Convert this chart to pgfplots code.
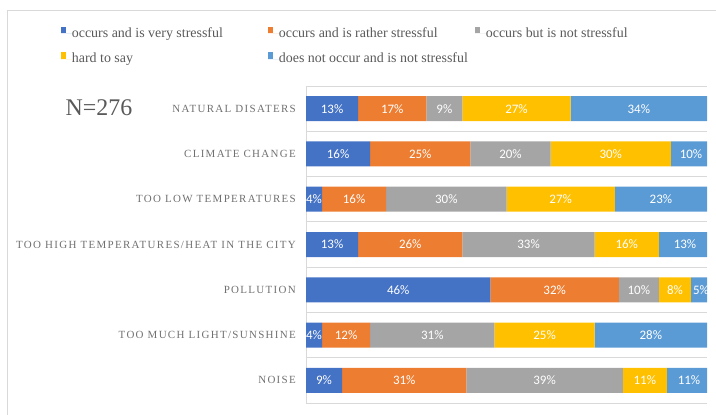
\documentclass[border=0pt]{standalone}
\usepackage{fontspec}
\setmainfont{Liberation Serif}
\newfontfamily\lblfont{Carlito}
\newfontfamily\catfont[LetterSpace=12]{Liberation Serif}
\usepackage{pgfplots}
\usepackage{pgfplotstable}
\pgfplotsset{compat=1.18}
\definecolor{cA}{HTML}{4472C4}
\definecolor{cB}{HTML}{ED7D31}
\definecolor{cC}{HTML}{A5A5A5}
\definecolor{cD}{HTML}{FFC000}
\definecolor{cE}{HTML}{5B9BD5}
\definecolor{gridc}{HTML}{D9D9D9}
\definecolor{txt}{HTML}{595959}
\definecolor{cattxt}{HTML}{707070}

% pos: 6 = natural disasters ... 0 = noise
\pgfplotstableread{
pos val
6 13
5 16
4 4
3 13
2 46
1 4
0 9
}\veryS
\pgfplotstableread{
pos val
6 17
5 25
4 16
3 26
2 32
1 12
0 31
}\ratherS
\pgfplotstableread{
pos val
6 9
5 20
4 30
3 33
2 10
1 31
0 39
}\notS
\pgfplotstableread{
pos val
6 27
5 30
4 27
3 16
2 8
1 25
0 11
}\hardS
\pgfplotstableread{
pos val
6 34
5 10
4 23
3 13
2 5
1 28
0 11
}\noOcc

\pgfplotsset{
  lab/.style={draw=none, fill=none,
    nodes near coords={\lblfont\fontsize{13}{15}\selectfont\pgfmathprintnumber[assume math mode=true]{\pgfplotspointmeta}\%},
    nodes near coords align={center},
    every node near coord/.append style={text=white, anchor=center, inner sep=0pt}},
}

\begin{document}
\begin{tikzpicture}
\useasboundingbox (0,0) rectangle (716bp,415bp);
\draw[gridc, line width=1bp] (7bp,0) -- (7bp,404bp) -- (716bp,404bp);
\node[text=txt, font=\fontsize{24}{28}\selectfont] at (99bp,307bp) {N=276};
\begin{axis}[
  at={(306bp,12bp)}, anchor=south west,
  scale only axis, width=401bp, height=317bp,
  xbar stacked, bar width=25bp,
  xmin=0, xmax=100, ymin=-0.5, ymax=6.5,
  axis x line=none, axis y line*=left,
  axis line style={draw=gridc, line width=1bp},
  ytick={0,...,6},
  yticklabels={NOISE, TOO MUCH LIGHT/SUNSHINE, POLLUTION, TOO HIGH TEMPERATURES/HEAT IN THE CITY, TOO LOW TEMPERATURES, CLIMATE CHANGE, NATURAL DISATERS},
  yticklabel style={font=\catfont\fontsize{11}{13}\selectfont, text=cattxt, inner sep=0pt, xshift=-10bp},
  minor ytick={-0.5,0.5,...,6.5},
  yminorgrids, minor grid style={draw=gridc, line width=1bp},
  major tick length=0pt, minor tick length=0pt,
  legend columns=3,
  legend cell align=left,
  legend image code/.code={\fill[#1, draw=none] (0bp,0.5bp) rectangle (5bp,7.2bp); \path (0bp,0bp) -- (10.7bp,0bp);},
  legend style={at={(axis description cs:-0.611,1.1877)}, anchor=north west, draw=none, fill=none, inner sep=0pt, column sep=0pt, row sep=11.5bp, font=\fontsize{14}{16}\selectfont, text=txt, nodes={inner sep=0pt, text height=10bp, text depth=3bp}},
]
\addplot[fill=cA, draw=none] table[x=val, y=pos] {\veryS};
\addlegendentry{\makebox[196.3bp][l]{occurs and is very stressful}}
\addplot[fill=cB, draw=none] table[x=val, y=pos] {\ratherS};
\addlegendentry{\makebox[196.3bp][l]{occurs and is rather stressful}}
\addplot[fill=cC, draw=none] table[x=val, y=pos] {\notS};
\addlegendentry{\makebox[196.3bp][l]{occurs but is not stressful}}
\addplot[fill=cD, draw=none] table[x=val, y=pos] {\hardS};
\addlegendentry{\makebox[196.3bp][l]{hard to say}}
\addplot[fill=cE, draw=none] table[x=val, y=pos] {\noOcc};
\addlegendentry{\makebox[196.3bp][l]{does not occur and is not stressful}}
\end{axis}
% overlay axis for the segment labels, same scale, wider range so rows summing to 101 keep their last label
\begin{axis}[
  at={(306bp,12bp)}, anchor=south west,
  scale only axis, width=409.02bp, height=317bp,
  xbar stacked, bar width=25bp,
  xmin=0, xmax=102, ymin=-0.5, ymax=6.5,
  hide axis, clip=false, point meta=explicit]
\addplot[lab] table[x=val, y=pos, meta=val] {\veryS};
\addplot[lab] table[x=val, y=pos, meta=val] {\ratherS};
\addplot[lab] table[x=val, y=pos, meta=val] {\notS};
\addplot[lab] table[x=val, y=pos, meta=val] {\hardS};
\addplot[lab] table[x=val, y=pos, meta=val] {\noOcc};
\end{axis}
\end{tikzpicture}
\end{document}
